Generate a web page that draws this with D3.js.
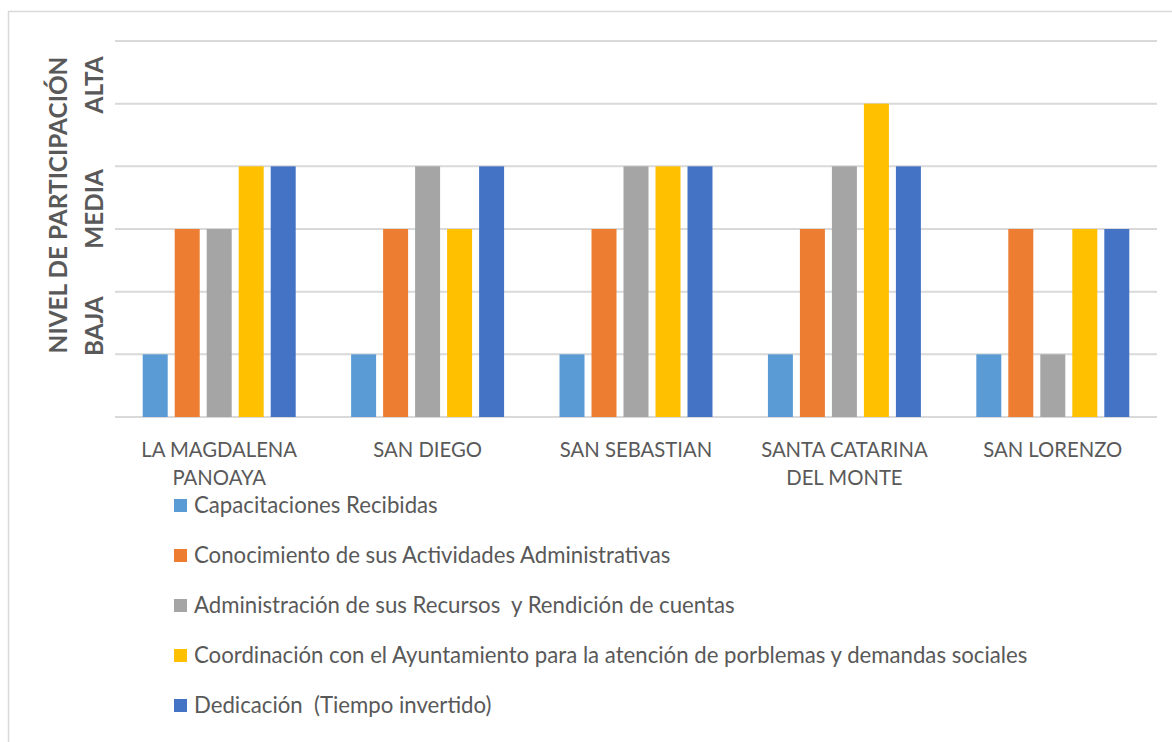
<!DOCTYPE html>
<html><head><meta charset="utf-8">
<script src="https://cdn.jsdelivr.net/npm/d3@7"></script>
<style>body{margin:0;background:#fff}svg{display:block}text{font-family:Lato,"Open Sans",sans-serif;white-space:pre}</style>
</head><body><svg id="c" width="1172" height="742"></svg>
<script>
const categories = [["LA MAGDALENA","PANOAYA"],["SAN DIEGO"],["SAN SEBASTIAN"],["SANTA CATARINA","DEL MONTE"],["SAN LORENZO"]];
const seriesNames = ["Capacitaciones Recibidas","Conocimiento de sus Actividades Administrativas","Administración de sus Recursos  y Rendición de cuentas","Coordinación con el Ayuntamiento para la atención de porblemas y demandas sociales","Dedicación  (Tiempo invertido)"];
const seriesColors = ["#5b9bd5","#ed7d31","#a5a5a5","#ffc000","#4472c4"];
const capacitaciones = [1,1,1,1,1];
const conocimiento = [3,3,3,3,3];
const administracion = [3,4,4,4,1];
const coordinacion = [4,3,4,5,3];
const dedicacion = [4,4,4,4,3];
const seriesValues = [capacitaciones, conocimiento, administracion, coordinacion, dedicacion];
const yTicks = [0,1,2,3,4,5,6];
const levelLabels = [{t:"BAJA",v:1.45},{t:"MEDIA",v:3.32},{t:"ALTA",v:5.3}];

const svg = d3.select("#c");
svg.append("path").attr("d","M8.5,742 V11.5 H1172").attr("fill","none").attr("stroke","#d9d9d9").attr("stroke-width",1.5);

const x0 = d3.scaleBand().domain(d3.range(categories.length)).range([115,1157]);
const x1 = d3.scaleBand().domain(d3.range(seriesNames.length)).range([0,x0.bandwidth()]).paddingInner(0.219).paddingOuter(0.866);
const y = d3.scaleLinear().domain([0,6]).range([417,41]);

svg.append("g").selectAll("line").data(yTicks).join("line")
  .attr("x1",115).attr("x2",1157).attr("y1",d=>y(d)).attr("y2",d=>y(d))
  .attr("stroke","#d9d9d9").attr("stroke-width",2);

const g = svg.append("g");
categories.forEach((c,ci)=>{
  seriesValues.forEach((vals,si)=>{
    g.append("rect").attr("x",x0(ci)+x1(si)).attr("width",x1.bandwidth())
      .attr("y",y(vals[ci])).attr("height",y(0)-y(vals[ci])).attr("fill",seriesColors[si]);
  });
  const t = svg.append("text").attr("text-anchor","middle").attr("fill","#595959").attr("font-size",20.3)
    .attr("x",x0(ci)+x0.bandwidth()/2).attr("y",457);
  c.forEach((line,li)=>t.append("tspan").attr("x",x0(ci)+x0.bandwidth()/2).attr("dy",li?28:0).text(line));
});

svg.append("text").attr("transform","translate(67,205) rotate(-90)").attr("text-anchor","middle")
  .attr("font-size",24.4).attr("font-weight","bold").attr("fill","#595959").text("NIVEL DE PARTICIPACIÓN");
levelLabels.forEach(l=>{
  svg.append("text").attr("transform",`translate(103,${y(l.v)}) rotate(-90)`).attr("text-anchor","middle")
    .attr("font-size",24.4).attr("font-weight","bold").attr("fill","#595959").text(l.t);
});

const leg = svg.append("g");
seriesNames.forEach((n,i)=>{
  const cy = 505 + i*50;
  leg.append("rect").attr("x",174).attr("y",cy-6).attr("width",13).attr("height",13).attr("fill",seriesColors[i]);
  leg.append("text").attr("x",194).attr("y",cy+8).attr("font-size",22.2).attr("fill","#595959").text(n);
});
</script></body></html>
